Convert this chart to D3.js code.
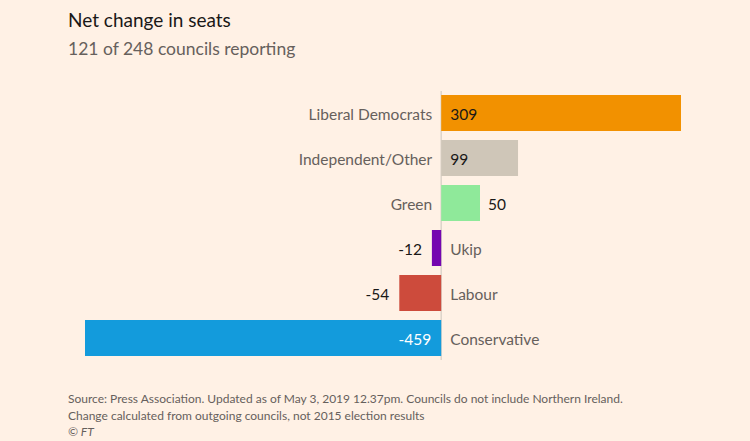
<!DOCTYPE html>
<html>
<head>
<meta charset="utf-8">
<script src="https://cdn.jsdelivr.net/npm/d3@7"></script>
<style>
  body { margin: 0; background: #fff1e5; }
  svg { display: block; font-family: Lato, "Open Sans", sans-serif; }
</style>
</head>
<body>
<div id="chart"></div>
<script>
var parties = ["Liberal Democrats", "Independent/Other", "Green", "Ukip", "Labour", "Conservative"];
var seatChange = [309, 99, 50, -12, -54, -459];
var partyColors = ["#f29100", "#cfc6b8", "#8fe99a", "#7505b0", "#cd4b3c", "#139bdc"];
var insideText = ["#1a1817", "#1a1817", null, null, null, "#ffffff"];

var svgWidth = 750;
var svgHeight = 441;

var svg = d3.select("#chart")
  .append("svg")
  .attr("width", svgWidth)
  .attr("height", svgHeight);

svg.append("rect")
  .attr("width", svgWidth)
  .attr("height", svgHeight)
  .attr("fill", "#fff1e5");

var data = parties.map(function(p, i) {
  return { party: p, value: seatChange[i], color: partyColors[i], inside: insideText[i] };
});

var xScale = d3.scaleLinear()
  .domain([d3.min(seatChange), d3.max(seatChange)])
  .range([85, 681]);

var yScale = d3.scaleBand()
  .domain(parties)
  .range([95, 356])
  .paddingInner(0.2);

var x0 = xScale(0);

// titles
svg.append("text")
  .attr("x", 68)
  .attr("y", 27)
  .attr("fill", "#1a1817")
  .style("font-size", "19px")
  .text("Net change in seats");

svg.append("text")
  .attr("x", 68)
  .attr("y", 55)
  .attr("fill", "#66605c")
  .style("font-size", "17.5px")
  .text("121 of 248 councils reporting");

// zero line
svg.append("line")
  .attr("x1", x0).attr("x2", x0)
  .attr("y1", 91).attr("y2", 360)
  .attr("stroke", "#ddd3ca")
  .attr("stroke-width", 1.5);

var rows = svg.selectAll("g.row")
  .data(data)
  .enter()
  .append("g")
  .attr("class", "row");

rows.append("rect")
  .attr("x", d => Math.min(xScale(d.value), x0))
  .attr("y", d => yScale(d.party))
  .attr("width", d => Math.abs(xScale(d.value) - x0))
  .attr("height", yScale.bandwidth())
  .attr("fill", d => d.color);

// category labels on the opposite side of the bar
rows.append("text")
  .attr("x", d => d.value >= 0 ? x0 - 9 : x0 + 9)
  .attr("y", d => yScale(d.party) + yScale.bandwidth() / 2)
  .attr("dy", "0.48em")
  .attr("text-anchor", d => d.value >= 0 ? "end" : "start")
  .attr("fill", "#66605c")
  .style("font-size", "15.5px")
  .text(d => d.party);

// value labels: inside the bar when it's wide enough
function isInside(d) {
  return Math.abs(xScale(d.value) - x0) > 60;
}

rows.append("text")
  .attr("x", function(d) {
    if (d.value >= 0) return isInside(d) ? x0 + 9 : xScale(d.value) + 8;
    return isInside(d) ? x0 - 10 : xScale(d.value) - 10;
  })
  .attr("y", d => yScale(d.party) + yScale.bandwidth() / 2)
  .attr("dy", "0.48em")
  .attr("text-anchor", d => d.value >= 0 ? "start" : "end")
  .attr("fill", d => isInside(d) ? d.inside : "#1a1817")
  .style("font-size", "15.5px")
  .text(d => d.value);

// footer
var notes = [
  "Source: Press Association. Updated as of May 3, 2019 12.37pm. Councils do not include Northern Ireland.",
  "Change calculated from outgoing councils, not 2015 election results"
];
svg.selectAll("text.note")
  .data(notes)
  .enter()
  .append("text")
  .attr("class", "note")
  .attr("x", 68)
  .attr("y", (d, i) => 403 + i * 16.5)
  .attr("fill", "#66605c")
  .style("font-size", "12px")
  .text(d => d);

svg.append("text")
  .attr("x", 68)
  .attr("y", 436)
  .attr("fill", "#66605c")
  .style("font-size", "12px")
  .style("font-style", "italic")
  .text("© FT");
</script>
</body>
</html>
